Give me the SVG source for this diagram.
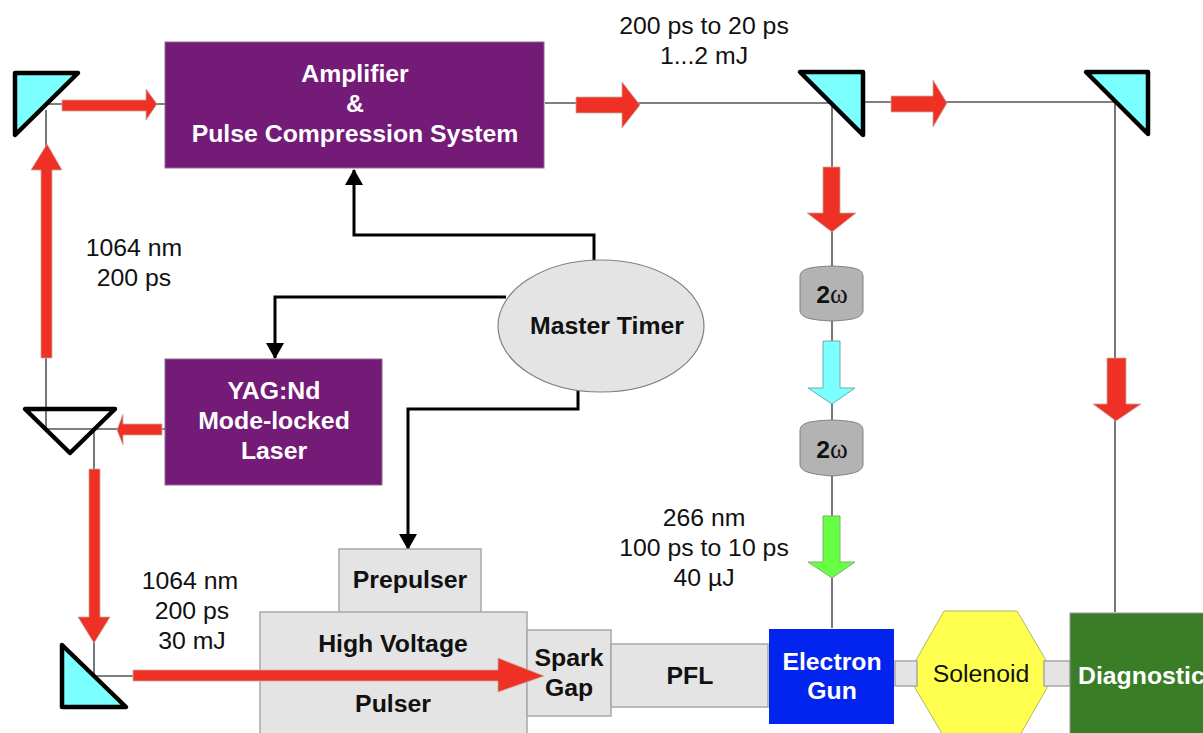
<svg xmlns="http://www.w3.org/2000/svg" width="1203" height="733" viewBox="0 0 1203 733">
<defs>
<marker id="bh" markerUnits="userSpaceOnUse" markerWidth="16" markerHeight="18" refX="15" refY="9" orient="auto"><path d="M0 0L16 9L0 18Z" fill="#000"/></marker>
</defs>
<style>
text{font-family:"Liberation Sans",Arial,sans-serif;font-size:24.8px;text-anchor:middle;fill:#111}
.b{font-weight:700;fill:#111}
.w{font-weight:700;fill:#fff}
.om{font-family:"Liberation Serif",serif;font-weight:400;font-size:27px}
.beam{fill:none;stroke:#555;stroke-width:1.6}
.ctl{fill:none;stroke:#000;stroke-width:3}
.red{fill:#ee3124;stroke:#c9a9a0;stroke-width:.8}
.mir{fill:#7bffff;stroke:#000;stroke-width:4.5;stroke-linejoin:round}
.pur{fill:#741b78;stroke:#8d6a90;stroke-width:1}
.gry{fill:#e4e4e4;stroke:#a8a8a8;stroke-width:1.5}
.dbl{fill:#b3b3b3;stroke:#808080;stroke-width:1}
</style>
<g id="connectors">
<path class="beam" d="M46 110V429"/><path class="beam" d="M47 104H165"/>
<path class="beam" d="M545 103H832"/><path class="beam" d="M862 102H1115V612"/>
<path class="beam" d="M832 104V628"/>
<path class="beam" d="M46 429H165"/><path class="beam" d="M94 429V676"/><path class="beam" d="M94 676H140"/>
<path class="ctl" d="M594 261V235H354V170" marker-end="url(#bh)"/>
<path class="ctl" d="M506 297H275V358" marker-end="url(#bh)"/>
<path class="ctl" d="M578 391V409H408V549" marker-end="url(#bh)"/>
</g>
<g id="amplifier"><rect class="pur" x="165" y="42" width="379" height="126"/><text class="w" x="355" y="82">Amplifier</text><text class="w" x="355" y="112">&amp;</text><text class="w" x="355" y="142">Pulse Compression System</text></g>
<g id="laser"><rect class="pur" x="165" y="359" width="217" height="126"/><text class="w" x="274" y="399">YAG:Nd</text><text class="w" x="274" y="429">Mode-locked</text><text class="w" x="274" y="459">Laser</text></g>
<g id="master-timer"><ellipse cx="601" cy="326" rx="103" ry="66" fill="#e4e4e4" stroke="#808080" stroke-width="1.2"/><text class="b" x="607" y="334">Master Timer</text></g>
<g id="mirror-1"><path class="mir" d="M15 73H78L15 135Z"/></g>
<g id="mirror-2"><path d="M25 409H115L70 453Z" fill="none" stroke="#000" stroke-width="4.5" stroke-linejoin="round"/></g>
<g id="mirror-3"><path class="mir" d="M62 645L126 707H62Z"/></g>
<g id="mirror-4"><path class="mir" d="M800 72H863V135Z"/></g>
<g id="mirror-5"><path class="mir" d="M1086 72H1148V134Z"/></g>
<g id="doubler-1"><path class="dbl" d="M800 277C800 269 808 267 832 266C856 267 863 269 863 277V310C863 317 856 320 832 321C808 320 800 317 800 310Z"/><text x="832" y="303" class="b">2<tspan class="om">ω</tspan></text></g>
<g id="doubler-2"><path class="dbl" d="M800 431C800 423 808 421 832 420C856 421 863 423 863 431V464C863 471 856 474 832 476C808 474 800 471 800 464Z"/><text x="832" y="458" class="b">2<tspan class="om">ω</tspan></text></g>
<g id="prepulser"><rect class="gry" x="339" y="549" width="142" height="64"/><text class="b" x="410" y="588">Prepulser</text></g>
<g id="pulser"><rect class="gry" x="260" y="612" width="267" height="125"/><text class="b" x="393" y="652">High Voltage</text><text class="b" x="393" y="712">Pulser</text></g>
<g id="spark-gap"><rect class="gry" x="527" y="630" width="84" height="86"/><text class="b" x="569" y="666">Spark</text><text class="b" x="569" y="696">Gap</text></g>
<g id="pfl"><rect class="gry" x="611" y="644" width="157" height="63"/><text class="b" x="690" y="684">PFL</text></g>
<g id="electron-gun"><rect x="769" y="629" width="125" height="95" fill="#0323ee"/><text class="w" x="832" y="670">Electron</text><text class="w" x="832" y="699">Gun</text></g>
<g id="solenoid"><path d="M944 611H1017L1047 662V688L1020 735H943L915 688V662Z" fill="#ffff50" stroke="#b5b56a" stroke-width="1"/><text x="981" y="682">Solenoid</text></g>
<g id="link-1"><rect class="gry" x="895" y="661" width="22" height="25"/></g>
<g id="link-2"><rect class="gry" x="1044" y="661" width="26" height="25"/></g>
<g id="diagnostic"><rect x="1070" y="613" width="140" height="125" fill="#397d26" stroke="#9a9a9a"/><text class="w" x="1078" y="684" style="text-anchor:start">Diagnostic</text></g>
<g id="pulses">
<path class="red" d="M62 100H146V89L157 104L146 120V111H62Z"/>
<path class="red" d="M41 358V170H31L47 144L62 170H52V358Z"/>
<path class="red" d="M162 424H123V414L117 430L123 445V435H162Z"/>
<path class="red" d="M89 469V617H78L94 643L110 617H100V469Z"/>
<path class="red" d="M133 670H498V658L544 676L498 692V681H133Z"/>
<path class="red" d="M576 97H622V82L640 105L622 128V113H576Z"/>
<path class="red" d="M891 96H933V80L947 103L933 127V112H891Z"/>
<path class="red" d="M823 167V213H807L832 232L856 213H840V167Z"/>
<path class="red" d="M1107 358V404H1093L1116 421L1141 404H1126V358Z"/>
<path d="M823 341V388H808L832 404L855 388H840V341Z" fill="#7bffff" stroke="#70a8a8"/>
<path d="M823 516V562H808L832 578L855 562H840V516Z" fill="#66ff44" stroke="#7cb070"/>
</g>
<g id="labels">
<text x="704" y="34">200 ps to 20 ps</text><text x="704" y="64">1...2 mJ</text>
<text x="134" y="256">1064 nm</text><text x="134" y="286">200 ps</text>
<text x="190" y="589">1064 nm</text><text x="192" y="619">200 ps</text><text x="192" y="649">30 mJ</text>
<text x="704" y="526">266 nm</text><text x="704" y="556">100 ps to 10 ps</text><text x="704" y="586">40 µJ</text>
</g>
</svg>
